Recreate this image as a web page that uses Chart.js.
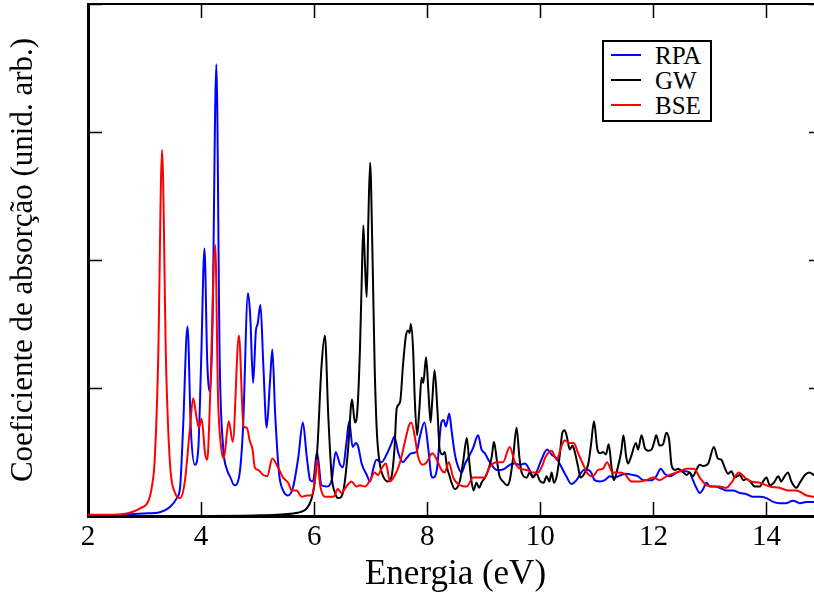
<!DOCTYPE html>
<html>
<head>
<meta charset="utf-8">
<script src="https://cdn.jsdelivr.net/npm/chart.js@4.4.0/dist/chart.umd.min.js"></script>
<style>
    html, body { margin: 0; padding: 0; overflow: hidden; background: #fff; }
    #wrap { position: relative; width: 814px; height: 596px; overflow: hidden; }
    #chart { position: absolute; left: 0; top: 0; }
    .legend {
        position: absolute; left: 602px; top: 40px; width: 106px; height: 78px;
        border: 2px solid #000; background: #fff;
        font-family: 'Liberation Serif', serif; font-size: 25px; color: #000;
    }
    .legend .row { position: absolute; left: 0; width: 106px; height: 25px; }
    .legend .swatch { position: absolute; left: 7px; top: 11px; width: 30px; height: 2px; }
    .legend .label { position: absolute; left: 51px; top: 0; line-height: 25px; }
</style>
</head>
<body>
<div id="wrap">
    <canvas id="chart" width="826" height="596"></canvas>
    <div class="legend">
        <div class="row" style="top:1px"><div class="swatch" style="background:#0000ff"></div><span class="label">RPA</span></div>
        <div class="row" style="top:26px"><div class="swatch" style="background:#000"></div><span class="label">GW</span></div>
        <div class="row" style="top:51px"><div class="swatch" style="background:#ff0000"></div><span class="label">BSE</span></div>
    </div>
</div>
<script>
// valores (energia em eV, absorção em unid. arb.)
const rpaEnergy = [2.00, 2.57, 2.98, 3.27, 3.45, 3.57, 3.63, 3.68, 3.76, 3.82, 3.89, 3.95, 4.00, 4.06, 4.11, 4.16, 4.20, 4.27, 4.33, 4.39,
    4.46, 4.51, 4.59, 4.67, 4.74, 4.83, 4.87, 4.92, 4.97, 5.00, 5.05, 5.10, 5.16, 5.22, 5.26, 5.31, 5.38, 5.45, 5.54, 5.63,
    5.72, 5.80, 5.87, 5.93, 5.98, 6.05, 6.13, 6.22, 6.31, 6.38, 6.46, 6.51, 6.57, 6.62, 6.68, 6.74, 6.78, 6.84, 6.93, 6.99,
    7.04, 7.10, 7.19, 7.28, 7.37, 7.42, 7.49, 7.57, 7.63, 7.72, 7.81, 7.87, 7.95, 8.02, 8.07, 8.10, 8.17, 8.25, 8.29, 8.33,
    8.39, 8.43, 8.49, 8.55, 8.61, 8.67, 8.72, 8.81, 8.90, 8.96, 9.02, 9.08, 9.14, 9.23, 9.31, 9.37, 9.46, 9.55, 9.64, 9.73,
    9.81, 9.87, 9.93, 10.02, 10.12, 10.20, 10.29, 10.34, 10.40, 10.46, 10.55, 10.64, 10.71, 10.77, 10.85, 10.90, 10.96, 11.05, 11.14, 11.23,
    11.31, 11.43, 11.52, 11.64, 11.73, 11.82, 11.91, 11.97, 12.05, 12.13, 12.20, 12.29, 12.38, 12.47, 12.56, 12.64, 12.70, 12.76, 12.82, 12.88,
    12.94, 13.00, 13.09, 13.17, 13.29, 13.41, 13.53, 13.65, 13.76, 13.88, 14.00, 14.12, 14.23, 14.35, 14.47, 14.59, 14.71, 14.84, 15.00];
const rpaAbs = [0.00, 0.01, 0.02, 0.03, 0.07, 0.14, 0.23, 0.67, 1.48, 0.67, 0.40, 0.52, 1.19, 2.09, 1.19, 0.97, 1.45, 3.53, 1.20, 0.54,
    0.36, 0.31, 0.24, 0.30, 0.67, 1.74, 1.56, 1.04, 1.45, 1.50, 1.65, 1.19, 0.69, 1.06, 1.30, 0.80, 0.33, 0.20, 0.16, 0.23,
    0.46, 0.73, 0.46, 0.28, 0.27, 0.50, 0.24, 0.23, 0.28, 0.50, 0.40, 0.38, 0.57, 0.74, 0.54, 0.57, 0.54, 0.41, 0.32, 0.27,
    0.36, 0.44, 0.42, 0.48, 0.57, 0.62, 0.49, 0.42, 0.45, 0.49, 0.50, 0.62, 0.73, 0.52, 0.32, 0.30, 0.36, 0.73, 0.75, 0.70,
    0.80, 0.67, 0.48, 0.38, 0.34, 0.41, 0.45, 0.53, 0.63, 0.52, 0.49, 0.44, 0.40, 0.36, 0.36, 0.37, 0.40, 0.41, 0.40, 0.41,
    0.36, 0.31, 0.34, 0.44, 0.52, 0.48, 0.45, 0.41, 0.36, 0.31, 0.25, 0.28, 0.33, 0.36, 0.36, 0.34, 0.28, 0.27, 0.28, 0.31,
    0.30, 0.32, 0.33, 0.32, 0.31, 0.28, 0.28, 0.28, 0.31, 0.37, 0.33, 0.31, 0.33, 0.35, 0.35, 0.34, 0.28, 0.22, 0.18, 0.21,
    0.26, 0.23, 0.23, 0.22, 0.20, 0.20, 0.18, 0.17, 0.15, 0.15, 0.14, 0.11, 0.10, 0.10, 0.12, 0.10, 0.11, 0.11, 0.11];

const gwEnergy = [2.00, 4.00, 5.04, 5.63, 5.75, 5.87, 5.95, 6.01, 6.06, 6.13, 6.19, 6.25, 6.31, 6.37, 6.42, 6.48, 6.54, 6.60, 6.67, 6.72,
    6.76, 6.81, 6.84, 6.87, 6.90, 6.93, 6.96, 6.99, 7.03, 7.07, 7.11, 7.16, 7.22, 7.31, 7.37, 7.42, 7.46, 7.52, 7.57, 7.62,
    7.66, 7.69, 7.71, 7.75, 7.78, 7.82, 7.86, 7.90, 7.93, 7.98, 8.02, 8.06, 8.09, 8.13, 8.18, 8.22, 8.27, 8.31, 8.35, 8.39,
    8.43, 8.49, 8.58, 8.64, 8.70, 8.74, 8.78, 8.82, 8.87, 8.92, 8.96, 9.02, 9.08, 9.14, 9.18, 9.23, 9.28, 9.34, 9.41, 9.46,
    9.52, 9.58, 9.63, 9.67, 9.76, 9.81, 9.87, 9.93, 10.00, 10.06, 10.11, 10.16, 10.20, 10.24, 10.29, 10.34, 10.39, 10.43, 10.47, 10.52,
    10.57, 10.61, 10.67, 10.71, 10.79, 10.85, 10.90, 10.95, 11.01, 11.06, 11.11, 11.16, 11.21, 11.26, 11.30, 11.36, 11.43, 11.47, 11.52, 11.55,
    11.61, 11.69, 11.73, 11.79, 11.85, 11.91, 11.97, 12.01, 12.05, 12.11, 12.17, 12.23, 12.28, 12.32, 12.38, 12.44, 12.53, 12.59, 12.64, 12.70,
    12.76, 12.82, 12.88, 12.97, 13.07, 13.14, 13.20, 13.26, 13.32, 13.38, 13.44, 13.53, 13.59, 13.65, 13.73, 13.79, 13.88, 13.94, 14.00, 14.06,
    14.13, 14.21, 14.26, 14.32, 14.38, 14.44, 14.53, 14.59, 14.68, 14.76, 14.84, 15.00];
const gwAbs = [0.00, 0.00, 0.005, 0.02, 0.03, 0.06, 0.13, 0.26, 0.55, 1.17, 1.41, 0.78, 0.31, 0.18, 0.14, 0.15, 0.26, 0.52, 0.91, 0.73,
    0.80, 1.30, 1.82, 2.27, 1.95, 1.71, 2.34, 2.76, 2.08, 1.17, 0.65, 0.41, 0.31, 0.27, 0.31, 0.52, 0.84, 0.89, 1.17, 1.40,
    1.45, 1.43, 1.50, 1.30, 0.91, 0.63, 0.83, 1.08, 1.04, 1.24, 0.98, 0.73, 0.91, 1.14, 0.83, 0.52, 0.48, 0.50, 0.38, 0.32,
    0.26, 0.21, 0.28, 0.44, 0.61, 0.44, 0.28, 0.20, 0.26, 0.22, 0.26, 0.30, 0.36, 0.46, 0.58, 0.44, 0.31, 0.27, 0.24, 0.28,
    0.46, 0.69, 0.46, 0.34, 0.30, 0.34, 0.30, 0.33, 0.27, 0.26, 0.31, 0.27, 0.34, 0.26, 0.31, 0.46, 0.65, 0.67, 0.62, 0.52,
    0.55, 0.50, 0.38, 0.30, 0.34, 0.41, 0.57, 0.74, 0.52, 0.49, 0.50, 0.48, 0.56, 0.38, 0.28, 0.36, 0.50, 0.63, 0.46, 0.41,
    0.47, 0.57, 0.52, 0.63, 0.53, 0.51, 0.52, 0.57, 0.63, 0.55, 0.56, 0.65, 0.59, 0.40, 0.36, 0.37, 0.34, 0.32, 0.34, 0.31,
    0.36, 0.40, 0.39, 0.41, 0.54, 0.45, 0.44, 0.38, 0.33, 0.35, 0.30, 0.32, 0.28, 0.29, 0.26, 0.23, 0.23, 0.27, 0.30, 0.24,
    0.26, 0.31, 0.27, 0.31, 0.34, 0.27, 0.22, 0.26, 0.32, 0.34, 0.32, 0.30];

const bseEnergy = [2.00, 2.39, 2.68, 2.92, 3.07, 3.13, 3.18, 3.24, 3.31, 3.38, 3.45, 3.54, 3.63, 3.71, 3.80, 3.86, 3.92, 3.96, 4.01,
    4.07, 4.11, 4.16, 4.25, 4.30, 4.36, 4.40, 4.49, 4.56, 4.67, 4.75, 4.81, 4.86, 4.91, 4.95, 5.01, 5.10, 5.17, 5.26, 5.36,
    5.45, 5.54, 5.60, 5.69, 5.78, 5.87, 5.95, 6.01, 6.05, 6.11, 6.19, 6.34, 6.42, 6.48, 6.57, 6.66, 6.75, 6.81, 6.90, 6.99,
    7.07, 7.13, 7.19, 7.27, 7.34, 7.43, 7.52, 7.60, 7.68, 7.72, 7.78, 7.84, 7.92, 7.99, 8.09, 8.17, 8.25, 8.31, 8.38, 8.46,
    8.58, 8.70, 8.81, 8.93, 9.02, 9.10, 9.23, 9.34, 9.46, 9.55, 9.64, 9.76, 9.87, 9.96, 10.05, 10.08, 10.20, 10.29, 10.37, 10.43,
    10.52, 10.59, 10.67, 10.75, 10.84, 10.93, 11.02, 11.11, 11.18, 11.28, 11.37, 11.49, 11.61, 11.76, 11.88, 12.00, 12.11, 12.23, 12.35, 12.47,
    12.59, 12.72, 12.82, 12.94, 13.06, 13.17, 13.29, 13.38, 13.51, 13.62, 13.73, 13.88, 14.06, 14.23, 14.38, 14.53, 14.71, 14.84, 15.00];
const bseAbs = [0.01, 0.01, 0.02, 0.06, 0.12, 0.23, 0.44, 1.20, 2.86, 1.20, 0.41, 0.18, 0.14, 0.26, 0.67, 0.92, 0.77, 0.69, 0.76,
    0.49, 0.44, 0.93, 2.12, 0.93, 0.52, 0.45, 0.74, 0.58, 1.41, 0.70, 0.69, 0.59, 0.52, 0.38, 0.36, 0.32, 0.31, 0.45, 0.38,
    0.30, 0.26, 0.20, 0.20, 0.15, 0.16, 0.16, 0.27, 0.44, 0.23, 0.15, 0.15, 0.21, 0.18, 0.23, 0.27, 0.23, 0.24, 0.23, 0.28,
    0.34, 0.32, 0.37, 0.41, 0.27, 0.32, 0.42, 0.57, 0.71, 0.73, 0.62, 0.46, 0.40, 0.42, 0.49, 0.44, 0.36, 0.34, 0.42, 0.30,
    0.24, 0.23, 0.30, 0.30, 0.30, 0.38, 0.42, 0.42, 0.54, 0.42, 0.37, 0.36, 0.34, 0.34, 0.41, 0.45, 0.51, 0.44, 0.54, 0.59,
    0.57, 0.57, 0.49, 0.41, 0.33, 0.31, 0.36, 0.37, 0.42, 0.34, 0.34, 0.33, 0.27, 0.27, 0.28, 0.30, 0.28, 0.31, 0.33, 0.35,
    0.37, 0.37, 0.30, 0.24, 0.23, 0.23, 0.22, 0.26, 0.34, 0.30, 0.27, 0.26, 0.23, 0.22, 0.20, 0.20, 0.16, 0.15, 0.14];

const serif = "'Liberation Serif', 'Times New Roman', serif";

function toPoints(xs, ys) {
    return xs.map((x, i) => ({ x: x, y: ys[i] }));
}

function lineSet(label, color, xs, ys, order) {
    return {
        label: label,
        data: toPoints(xs, ys),
        borderColor: color,
        backgroundColor: color,
        borderWidth: 2,
        pointRadius: 0,
        fill: false,
        cubicInterpolationMode: 'monotone',
        order: order
    };
}

// eixo com marcas para dentro (tickLength negativo)
function frameAxis(extra) {
    return Object.assign({
        grid: { display: true, drawOnChartArea: false, drawTicks: true, tickLength: -14, tickWidth: 1.5, tickColor: '#000' },
        border: { display: true, color: '#000', width: 2 }
    }, extra);
}

Chart.defaults.font.family = serif;
Chart.defaults.color = '#000';

new Chart(document.getElementById('chart'), {
    type: 'line',
    data: {
        datasets: [
            lineSet('RPA', '#0000ff', rpaEnergy, rpaAbs, 3),
            lineSet('GW', '#000000', gwEnergy, gwAbs, 2),
            lineSet('BSE', '#ff0000', bseEnergy, bseAbs, 1)
        ]
    },
    options: {
        responsive: false,
        animation: false,
        layout: { padding: { top: 4, right: 3, left: 0, bottom: 0 } },
        plugins: { legend: { display: false }, tooltip: { enabled: false } },
        scales: {
            x: frameAxis({
                type: 'linear', position: 'bottom', min: 2, max: 15,
                afterFit: s => { s.height = 80; },
                border: { display: true, color: '#000', width: 3 },
                ticks: { stepSize: 2, includeBounds: false, padding: 18, autoSkip: false, maxRotation: 0, color: '#000', font: { family: serif, size: 29 } },
                title: { display: true, text: 'Energia (eV)', color: '#000', font: { family: serif, size: 35 }, padding: { top: 0, bottom: 0 } }
            }),
            xTop: frameAxis({
                type: 'linear', position: 'top', min: 2, max: 15,
                afterFit: s => { s.height = 0; },
                ticks: { display: false, stepSize: 2, includeBounds: false }
            }),
            y: frameAxis({
                type: 'linear', position: 'left', min: 0, max: 4,
                afterFit: s => { s.width = 88; },
                border: { display: true, color: '#000', width: 3 },
                ticks: { display: false, stepSize: 1 },
                title: { display: true, text: 'Coeficiente de absorção (unid. arb.)', color: '#000', font: { family: serif, size: 31 }, padding: { top: 5, bottom: 0 } }
            }),
            yRight: frameAxis({
                type: 'linear', position: 'right', min: 0, max: 4,
                afterFit: s => { s.width = 0; },
                ticks: { display: false, stepSize: 1 }
            })
        }
    }
});
</script>
</body>
</html>
